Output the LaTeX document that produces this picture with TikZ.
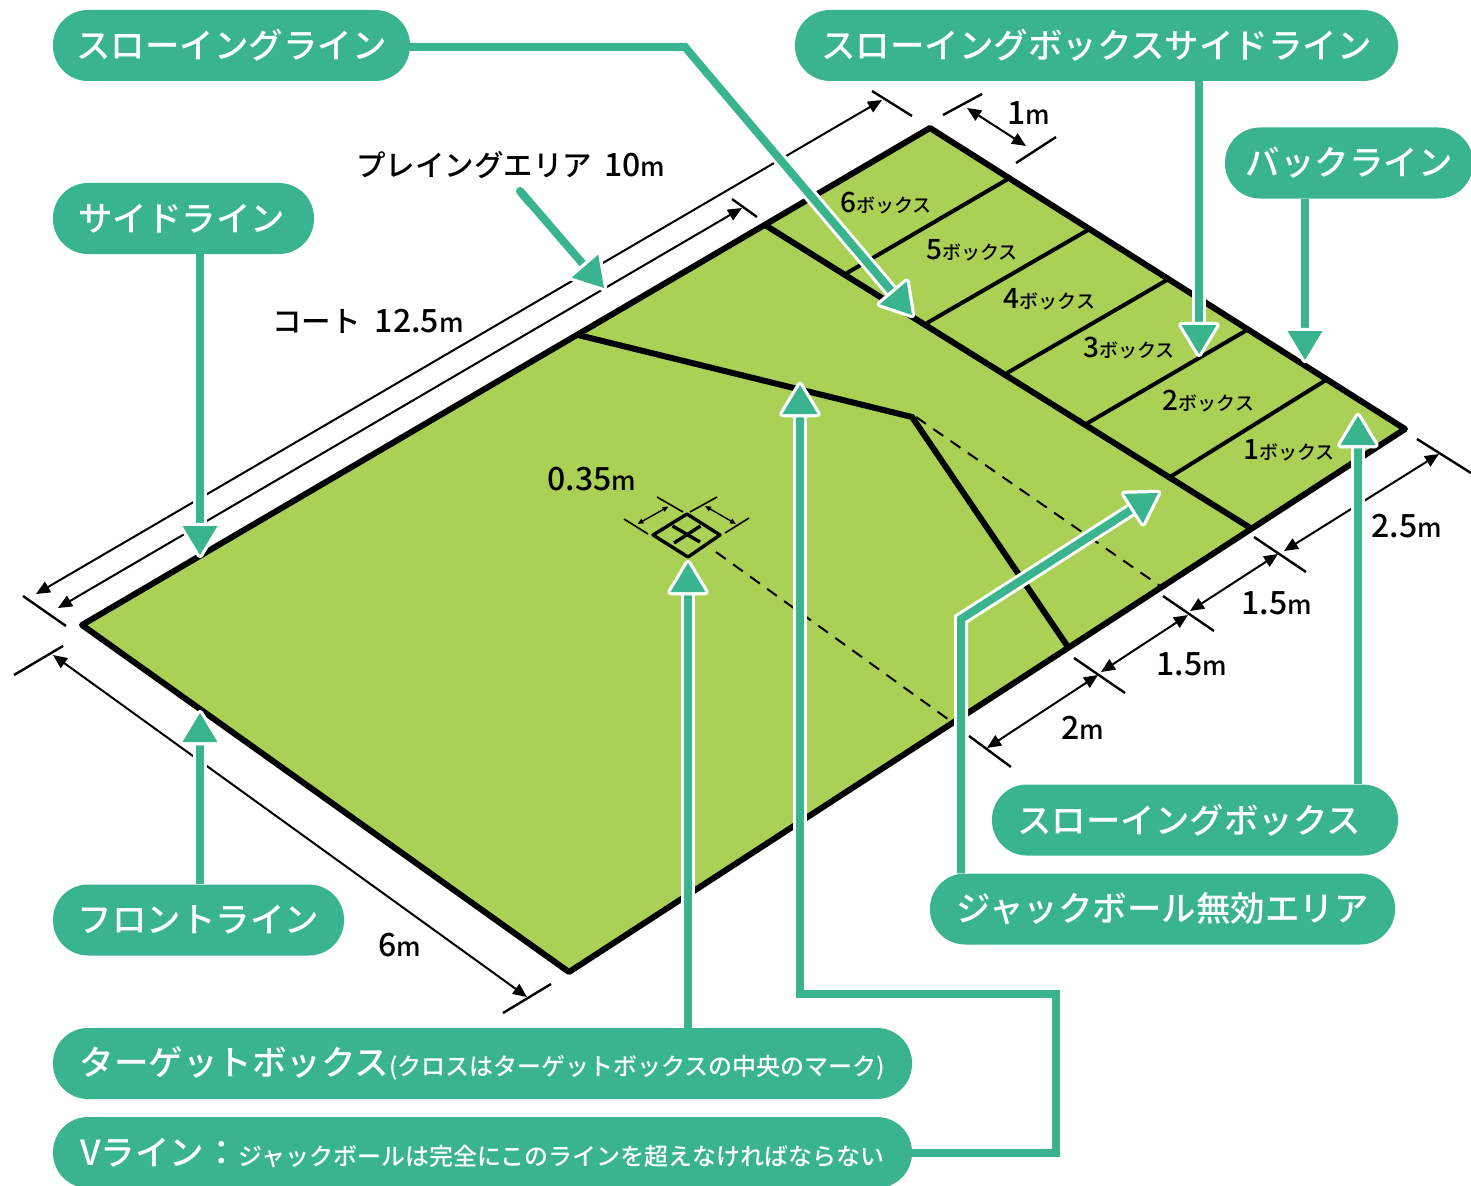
\documentclass[tikz,border=0pt]{standalone}
\usepackage{fontspec}
\setmainfont{Noto Sans CJK JP Medium}
\usetikzlibrary{arrows.meta}
\definecolor{teal}{HTML}{3AB48E}
\definecolor{field}{HTML}{AAD155}
\newcommand\lbl[1]{{\fontsize{34.5}{36}\selectfont #1}}
\newcommand\sml[1]{{\fontsize{24}{26}\selectfont #1}}
\newcommand\dimt[1]{{\fontsize{32}{34}\selectfont #1}{\fontsize{26}{28}\selectfont m}}
\newcommand\boxt[1]{{\fontsize{28}{30}\selectfont #1}{\fontsize{19}{21}\selectfont ボックス}}
\newcommand\tealarrow[3]{%
  \draw[halo] #1; \draw[shaft] #1;
  \draw[headhalo,shift={(#2)},rotate=#3] (0,0)--(-29,17.5)--(-29,-17.5)--cycle;
  \fill[teal,shift={(#2)},rotate=#3] (0,0)--(-29,17.5)--(-29,-17.5)--cycle;}
\tikzset{
  pill/.style={fill=teal,text=white,rounded corners=35pt,inner sep=0pt,align=center},
  dimline/.style={black,line width=2pt,{Triangle[length=14pt,width=12pt]}-{Triangle[length=14pt,width=12pt]}},
  tick/.style={black,line width=2.4pt},
  heavy/.style={black,line width=6pt,line cap=round,line join=round},
  divider/.style={black,line width=4pt},
  dashline/.style={black,line width=2pt,dash pattern=on 12pt off 9pt},
  halo/.style={white,line width=14pt,line join=miter},
  shaft/.style={teal,line width=8pt,line join=miter},
  headhalo/.style={draw=white,fill=white,line width=6.5pt,line join=round},
  txt/.style={inner sep=0pt,text=black}
}
\begin{document}
\begin{tikzpicture}[x=1pt,y=-1pt]
\useasboundingbox (0,0) rectangle (1471,1185);
% court
\coordinate (cA) at (82,625);
\coordinate (cB) at (930,128);
\coordinate (cC) at (1405,429);
\coordinate (cD) at (569,972);
\draw[heavy,fill=field] (cA)--(cB)--(cC)--(cD)--cycle;
% box lines
\coordinate (bs1) at (765,225);
\coordinate (bs2) at (1252,529);
\draw[heavy,line cap=butt] (bs1)--(bs2);
\draw[divider] (1008,179)--(847,273);
\draw[divider] (1088,230)--(927,323);
\draw[divider] (1167,280)--(1007,373);
\draw[divider] (1247,330)--(1086,424);
\draw[divider] (1326,380)--(1170,477);
% V line
\coordinate (v1) at (578,335);
\coordinate (v2) at (912,417);
\coordinate (v3) at (1068,647);
\draw[heavy,line cap=butt,line join=miter] (v1)--(v2)--(v3);
\draw[dashline] (916,417)--(1160,586);
\draw[dashline] (716,552)--(952,722);
% target
\draw[black,line width=3.4pt,line join=round] (687,514)--(720,535)--(688,557)--(653,535)--cycle;
\draw[black,line width=3.4pt] (672.5,526)--(700,542);
\draw[black,line width=3.4pt] (674,543)--(700.5,526);
\draw[black,line width=1.6pt] (624,519)--(648,534);
\draw[black,line width=1.6pt] (657,497)--(683,512);
\draw[black,line width=1.6pt] (690,512)--(717,497);
\draw[black,line width=1.6pt] (725,533)--(749,518);
\draw[black,line width=1.4pt,{Triangle[length=6pt,width=5pt]}-{Triangle[length=6pt,width=5pt]}] (637.5,524)--(668.5,506.5);
\draw[black,line width=1.4pt,{Triangle[length=6pt,width=5pt]}-{Triangle[length=6pt,width=5pt]}] (705,506)--(736,524);
% dimensions
\draw[dimline] (36,594)--(882,100);
\draw[dimline] (58,608)--(742,208);
\draw[tick] (23,596)--(66,626);
\draw[tick] (872,91)--(912,116);
\draw[tick] (732,199)--(757,217);
\draw[tick] (943,115)--(982,94);
\draw[tick] (1016,163)--(1056,137);
\draw[dimline] (967,108)--(1026,146);
\draw[tick] (14,675)--(63,646);
\draw[tick] (503,1013)--(551,984);
\draw[dimline] (53,655)--(527,997);
\draw[tick] (1254,537)--(1306,572);
\draw[tick] (1163,596)--(1214,631);
\draw[tick] (1074,658)--(1125,693);
\draw[tick] (969,736)--(1011,767);
\draw[tick] (1417,439)--(1471,473);
\draw[dimline] (987,748)--(1098,675);
\draw[dimline] (1101,672)--(1188,615);
\draw[dimline] (1190,611)--(1278,554);
\draw[dimline] (1284,551)--(1439,454);
% pills
\node[pill,minimum width=357pt,minimum height=71pt] (throwline) at (231.5,45.5) {\lbl{スローイングライン}};
\node[pill,minimum width=603pt,minimum height=71pt] (sideboxline) at (1096.5,45.5) {\lbl{スローイングボックスサイドライン}};
\node[pill,minimum width=248pt,minimum height=71pt] (backline) at (1349,163) {\lbl{バックライン}};
\node[pill,minimum width=261pt,minimum height=71pt] (sideline) at (183.5,218.5) {\lbl{サイドライン}\hspace{4pt}};
\node[pill,minimum width=291pt,minimum height=71pt] (frontline) at (198.5,920) {\lbl{フロントライン}};
\node[pill,minimum width=406pt,minimum height=71pt] (boxlabel) at (1195,820) {\lbl{スローイングボックス}\hspace{12pt}};
\node[pill,minimum width=465pt,minimum height=71pt] (jack) at (1162.5,909) {\lbl{ジャックボール無効エリア}};
\node[pill,minimum width=859pt,minimum height=71pt] (target) at (482.5,1063.5) {\lbl{ターゲットボックス}\sml{(クロスはターゲットボックスの中央のマーク)}};
\node[pill,minimum width=859pt,minimum height=71pt] (vlabel) at (482.5,1152.5) {\lbl{Vライン：}\sml{ジャックボールは完全にこのラインを超えなければならない}};
% text
\node[txt] (tplay) at (510.5,165) {{\fontsize{29.5}{31}\selectfont プレイングエリア}\hspace{12pt}\dimt{10}};
\node[txt] (tcourt) at (368,321) {{\fontsize{29.5}{31}\selectfont コート}\hspace{14pt}\dimt{12.5}};
\node[txt] (t035) at (592,479) {\dimt{0.35}};
\node[txt] (t1m) at (1029,113) {\dimt{1}};
\node[txt] (t6m) at (400,945) {\dimt{6}};
\node[txt] (t2m) at (1083,728) {\dimt{2}};
\node[txt] (t15a) at (1192,664) {\dimt{1.5}};
\node[txt] (t15b) at (1277,603) {\dimt{1.5}};
\node[txt] (t25) at (1407,526) {\dimt{2.5}};
\node[txt] (b6) at (886,203) {\boxt{6}};
\node[txt] (b5) at (972,250) {\boxt{5}};
\node[txt] (b4) at (1049.5,299) {\boxt{4}};
\node[txt] (b3) at (1129,348) {\boxt{3}};
\node[txt] (b2) at (1208.5,401) {\boxt{2}};
\node[txt] (b1) at (1289,450) {\boxt{1}};
% arrows
\coordinate (a1t) at (912,315);
\coordinate (a2t) at (1199,354);
\coordinate (a3t) at (1305,360);
\coordinate (a4t) at (200,555);
\coordinate (a5t) at (200,713);
\coordinate (a6s) at (520,191);
\coordinate (a6t) at (604,288);
\coordinate (a7t) at (688,563);
\coordinate (a8t) at (800,385);
\coordinate (a9t) at (1158,493);
\coordinate (a10t) at (1358,416);
\tealarrow{(a6s)--(583,264)}{a6t}{-49}
\draw[teal,line width=8pt,line cap=round] (a6s)--(530,203);
\tealarrow{(throwline.east |- 0,47)--(685,47)--(893,293)}{a1t}{-49.8}
\tealarrow{(sideboxline.south -| a2t)--(1199,325)}{a2t}{-90}
\tealarrow{(backline.south -| a3t)--(1305,331)}{a3t}{-90}
\tealarrow{(sideline.south -| a4t)--(200,526)}{a4t}{-90}
\tealarrow{(frontline.north -| a5t)--(200,742)}{a5t}{90}
\tealarrow{(target.north -| a7t)--(688,592)}{a7t}{90}
\tealarrow{(vlabel.east)--(1056,1152.5)--(1056,994)--(800,994)--(800,414)}{a8t}{90}
\tealarrow{(jack.north -| 961,0)--(961,619)--(1134,508)}{a9t}{32.5}
\tealarrow{(boxlabel.north -| a10t)--(1358,445)}{a10t}{90}
\end{tikzpicture}
\end{document}
